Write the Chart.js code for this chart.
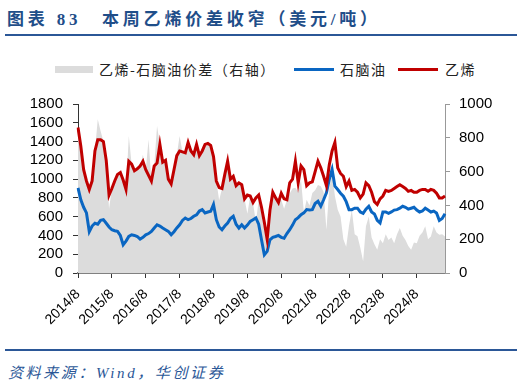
<!DOCTYPE html>
<html>
<head>
<meta charset="utf-8">
<script src="https://cdn.jsdelivr.net/npm/chart.js@4"></script>
<style>
  body { margin: 0; width: 524px; height: 385px; background: #fff; position: relative; overflow: hidden; }
  .abs { position: absolute; white-space: nowrap; }
  .title { font: bold 17px "Liberation Serif", "Noto Sans CJK SC"; color: #1f4e89; letter-spacing: 3.8px; top: 5px; }
  .rule { left: 5px; width: 512px; height: 2px; background: #2b5797; }
  .leg { font: 14px "Noto Sans CJK SC"; color: #222; letter-spacing: 1.5px; top: 59px; line-height: 20px; }
  .src { font: italic 15px "Liberation Serif", "Noto Sans CJK SC"; color: #2b5797; letter-spacing: 2.6px; left: 8px; top: 361px; }
</style>
</head>
<body>
<div class="abs title" style="left:7px">图表 83</div>
<div class="abs title" style="left:102px">本周乙烯价差收窄（美元/吨）</div>
<div class="abs rule" style="top:34px"></div>

<div class="abs" style="left:55px;top:66px;width:38px;height:7px;background:#dcdcdc"></div>
<div class="abs leg" style="left:99px">乙烯-石脑油价差（右轴）</div>
<div class="abs" style="left:294px;top:68px;width:40px;height:3px;background:#0a66c2"></div>
<div class="abs leg" style="left:340px">石脑油</div>
<div class="abs" style="left:398px;top:68px;width:40px;height:3px;background:#c00000"></div>
<div class="abs leg" style="left:445px">乙烯</div>

<div class="abs" style="left:0;top:85px;width:524px;height:262px">
  <canvas id="myChart" width="524" height="262"></canvas>
</div>

<div class="abs rule" style="top:349px"></div>
<div class="abs src">资料来源：Wind，华创证券</div>

<script>
// monthly points, 2014/8 .. 2025/6
var startYear = 2014;
var startMonth = 8;
var tickLabels = ['2014/8','2015/8','2016/8','2017/8','2018/8','2019/8','2020/8','2021/8','2022/8','2023/8','2024/8'];

// 乙烯 (left axis)
var ethylene = [
  1550,1350,1100,980,890,980,1300,1420,1420,1400,1200,830,900,980,1050,1070,990,890,1190,1160,
  1090,1110,1140,1190,1100,1040,980,1140,1170,1370,1180,1200,1000,950,1100,1250,1300,1290,1280,1390,
  1300,1260,1370,1250,1300,1370,1380,1360,1240,980,910,900,1050,1190,1000,1030,930,960,940,790,
  830,820,750,800,830,700,540,360,670,860,800,750,850,790,780,960,1000,1190,960,1140,
  1100,930,960,970,1080,1190,1120,1030,930,1150,1300,1390,1120,1060,1030,920,980,880,890,860,
  800,840,960,930,860,760,730,790,820,880,870,880,900,920,940,920,900,870,880,860,
  860,880,890,890,870,890,880,850,800,800,820
];

// 石脑油 (left axis)
var naphtha = [
  907,780,700,640,440,500,530,520,560,568,530,490,461,450,443,400,300,340,390,407,
  400,389,360,380,407,420,443,480,514,500,479,461,443,407,440,480,514,560,586,568,
  580,604,620,660,675,640,650,657,729,568,490,461,500,532,580,604,520,479,514,479,
  510,550,568,586,520,354,193,230,354,380,389,400,380,371,420,461,510,568,590,622,
  640,675,670,675,740,764,711,780,854,996,1104,925,889,850,818,760,675,675,690,690,
  650,636,680,711,650,629,560,532,650,650,636,650,670,675,690,711,700,680,690,700,
  670,650,660,690,670,650,660,640,560,580,630
];

// 乙烯-石脑油价差 (right axis)
var spread = [
  820,750,610,544,494,544,720,910,840,780,660,380,500,544,583,594,550,494,810,644,
  605,616,633,700,610,790,544,633,870,760,655,666,555,527,610,700,810,716,710,770,
  722,700,760,694,722,760,766,755,690,544,430,500,583,660,555,572,516,533,520,438,
  350,455,416,300,430,350,260,200,370,450,440,420,434,380,430,470,500,504,480,553,
  360,434,400,474,490,520,513,480,256,500,593,455,375,335,200,155,280,375,230,218,
  150,70,276,335,210,170,137,200,176,230,196,210,176,230,266,220,196,160,137,180,
  176,220,240,276,200,216,276,240,226,230,216
];

var labels = [];
for (var i = 0; i < ethylene.length; i++) {
  var m = startMonth - 1 + i;
  labels.push((startYear + Math.floor(m / 12)) + '/' + (m % 12 + 1));
}

var tickFont = { family: 'Liberation Sans, Arial', size: 14 };
var valueFont = { family: 'Liberation Sans, Arial', size: 15 };

var context = document.getElementById('myChart').getContext('2d');
var myChart = new Chart(context, {
  type: 'line',
  data: {
    labels: labels,
    datasets: [{
      label: '乙烯',
      data: ethylene,
      borderColor: '#c00000',
      borderWidth: 3,
      pointRadius: 0,
      yAxisID: 'y',
      order: 1
    }, {
      label: '石脑油',
      data: naphtha,
      borderColor: '#0a66c2',
      borderWidth: 3,
      pointRadius: 0,
      yAxisID: 'y',
      order: 2
    }, {
      label: '乙烯-石脑油价差（右轴）',
      data: spread,
      borderWidth: 0,
      borderColor: 'rgba(0,0,0,0)',
      backgroundColor: '#dcdcdc',
      fill: 'origin',
      pointRadius: 0,
      yAxisID: 'y1',
      order: 3
    }]
  },
  options: {
    responsive: false,
    animation: false,
    devicePixelRatio: 1,
    layout: { padding: { top: 2, left: 0, right: 0, bottom: 0 } },
    plugins: { legend: { display: false }, tooltip: { enabled: false } },
    scales: {
      x: {
        offset: false,
        grid: { drawOnChartArea: false, tickLength: 5, color: '#333' },
        border: { color: '#808080', width: 2 },
        ticks: {
          autoSkip: false,
          maxRotation: 45,
          minRotation: 45,
          padding: 8,
          color: '#000',
          font: tickFont,
          callback: function (v, i) {
            return tickLabels.indexOf(labels[i]) >= 0 ? labels[i] : null;
          }
        },
        afterFit: function (s) { s.height = 74; }
      },
      y: {
        position: 'left',
        min: 0,
        max: 1800,
        grid: { drawOnChartArea: false, tickLength: 5, color: '#333' },
        border: { color: '#333' },
        ticks: {
          stepSize: 200, autoSkip: false, padding: 10, color: '#000', font: valueFont,
          callback: function (v) { return String(v); }
        },
        afterFit: function (s) { s.width = 78; }
      },
      y1: {
        position: 'right',
        min: 0,
        max: 1000,
        grid: { drawOnChartArea: false, tickLength: 5, color: '#999' },
        border: { color: '#999' },
        ticks: {
          stepSize: 200, autoSkip: false, padding: 9, color: '#000', font: valueFont,
          callback: function (v) { return String(v); }
        },
        afterFit: function (s) { s.width = 79; }
      }
    }
  }
});
</script>
</body>
</html>
